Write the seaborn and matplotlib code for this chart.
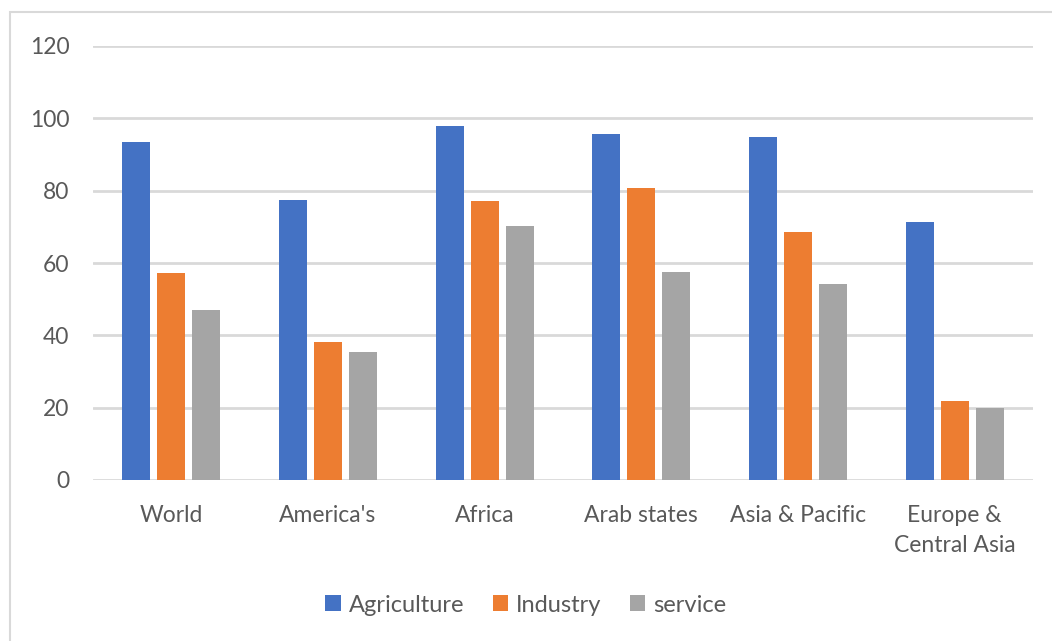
import matplotlib
matplotlib.use("Agg")
import matplotlib.pyplot as plt
import seaborn as sns
import pandas as pd
from matplotlib.patches import Rectangle, Patch

categories = ["World", "America's", "Africa", "Arab states", "Asia & Pacific", "Europe &\nCentral Asia"]
series_names = ["Agriculture", "Industry", "service"]
agriculture = [93.4, 77.5, 97.9, 95.6, 94.8, 71.3]
industry = [57.3, 38.1, 77.1, 80.6, 68.6, 21.8]
service = [47.0, 35.4, 70.1, 57.4, 54.2, 19.9]
colors = ["#4472C4", "#ED7D31", "#A5A5A5"]
yticks = [0, 20, 40, 60, 80, 100, 120]

rows = []
for name, vals in zip(series_names, [agriculture, industry, service]):
    for c, v in zip(categories, vals):
        rows.append({"category": c, "series": name, "value": v})
df = pd.DataFrame(rows)

sns.set_style("white")
plt.rcParams['font.family'] = ['Lato', 'DejaVu Sans']

fig = plt.figure(figsize=(10.52, 6.41), dpi=100)
ax = fig.add_axes([93/1052, 1-480/641, (1033-93)/1052, (480-46)/641])

sns.barplot(data=df, x="category", y="value", hue="series", order=categories,
            hue_order=series_names, palette=colors, width=0.67, gap=0.2,
            saturation=1, ax=ax, legend=False, edgecolor="none")

ax.set_ylim(0, 120)
ax.set_xlim(-0.5, len(categories) - 0.5)
ax.set_yticks(yticks)
ax.set_yticklabels([str(t) for t in yticks])
ax.yaxis.grid(True, color="#D9D9D9", linewidth=2)
ax.set_axisbelow(True)
for s in ax.spines.values():
    s.set_visible(False)
ax.set_xlabel("")
ax.set_ylabel("")
ax.tick_params(axis="both", length=0, labelsize=16.5, labelcolor="#595959")
ax.tick_params(axis="y", pad=17)
ax.tick_params(axis="x", pad=18)
for lbl in ax.get_xticklabels():
    lbl.set_linespacing(1.55)

handles = [Patch(facecolor=c, edgecolor="none") for c in colors]
fig.legend(handles, series_names, loc="center", bbox_to_anchor=(0.5, 1-605/641),
           ncol=3, frameon=False, fontsize=17, labelcolor="#595959",
           handlelength=0.65, handleheight=0.65, handletextpad=0.35, columnspacing=1.2)

fig.patches.append(Rectangle((10/1052, -0.1), 1.2, 1-12/641+0.1, transform=fig.transFigure,
                             fill=False, edgecolor="#D9D9D9", linewidth=1.5))

fig.savefig("out.png", dpi=100)
